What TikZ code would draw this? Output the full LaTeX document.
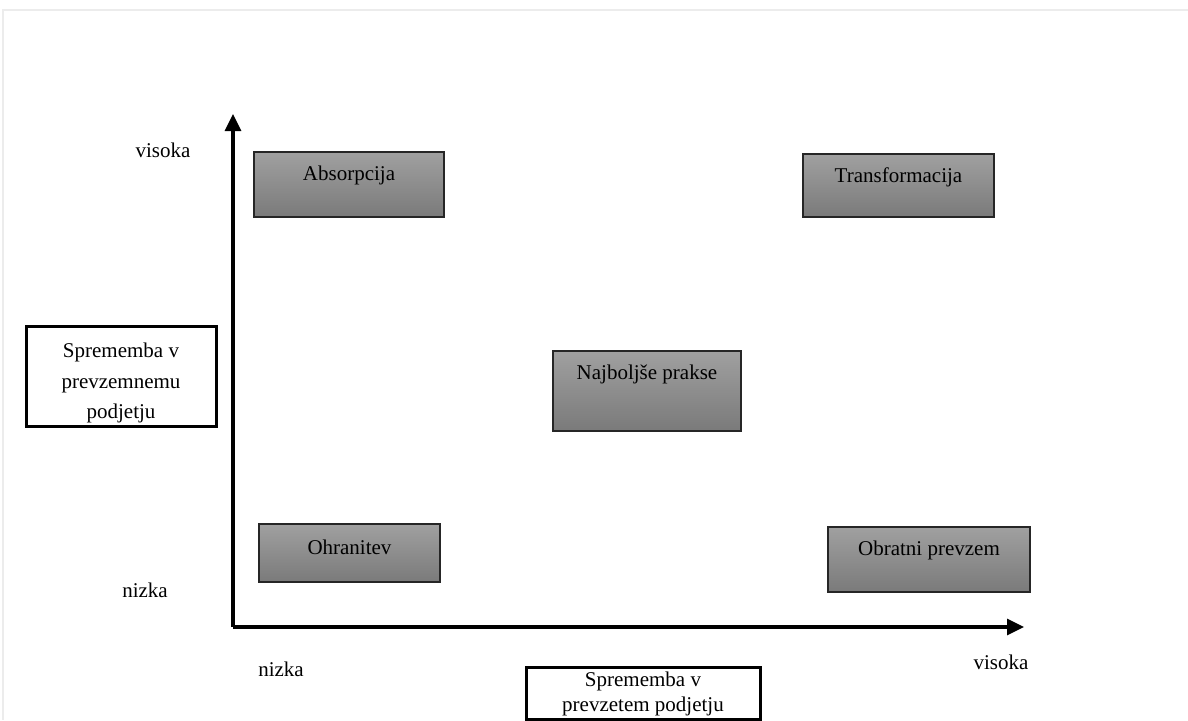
\documentclass[tikz,border=0pt]{standalone}
\usepackage{fontspec}
\setmainfont{Liberation Serif}
\usetikzlibrary{arrows.meta}
\definecolor{boxtop}{RGB}{160,160,160}
\definecolor{boxbot}{RGB}{122,122,122}
\definecolor{frameline}{RGB}{236,236,236}
\tikzset{
  every node/.style={font=\fontsize{21}{30}\selectfont, inner sep=0pt},
  graybox/.style={draw=black!85, line width=1.6pt, top color=boxtop, bottom color=boxbot},
  boxtag/.style={label={[anchor=center, yshift=-24pt, font=\fontsize{21}{30}\selectfont]north:#1}},
  axisbox/.style={draw=black, line width=3pt, fill=white},
  axistext/.style={align=center},
  axis/.style={line width=3.2pt, -{Triangle[length=17pt, width=16pt]}}
}
\begin{document}
\begin{tikzpicture}[x=1pt, y=-1pt]
  \useasboundingbox (0,0) rectangle (1188,720);
  % light page frame
  \draw[frameline, line width=2pt] (3,720) -- (3,10) -- (1188,10);

  % axes
  \coordinate (origin) at (233,627);
  \coordinate (ytip) at (233,114);
  \coordinate (xtip) at (1024,627);
  \draw[axis] (origin) -- (ytip);
  \draw[axis] (origin) -- (xtip);

  % axis level labels
  \node (yhigh) at (163,150) {visoka};
  \node (ylow) at (145,590) {nizka};
  \node (xlow) at (281,669) {nizka};
  \node (xhigh) at (1001,662) {visoka};

  % axis titles
  \node[axisbox, minimum width=190pt, minimum height=100pt] (ytitle) at (121,376) {};
  \node[axistext, font=\fontsize{21}{30.5}\selectfont] (ytitletext) at (121,383)
    {Sprememba v\\prevzemnemu\\podjetju};
  \node[axisbox, minimum width=234pt, minimum height=52pt] (xtitle) at (643,693) {};
  \node[axistext, font=\fontsize{21}{25}\selectfont] (xtitletext) at (643,694)
    {Sprememba v\\prevzetem podjetju};

  % quadrant boxes
  \node[graybox, minimum width=190pt, minimum height=65pt, boxtag=Absorpcija] (absorp) at (349,184.5) {};
  \node[graybox, minimum width=191pt, minimum height=63pt, boxtag=Transformacija] (transf) at (898.5,185.5) {};
  \node[graybox, minimum width=188pt, minimum height=80pt, boxtag={Najboljše prakse}] (best) at (647,391) {};
  \node[graybox, minimum width=181pt, minimum height=58pt, boxtag=Ohranitev] (keep) at (349.5,553) {};
  \node[graybox, minimum width=202pt, minimum height=65pt, boxtag={Obratni prevzem}] (reverse) at (929,559.5) {};
\end{tikzpicture}
\end{document}
